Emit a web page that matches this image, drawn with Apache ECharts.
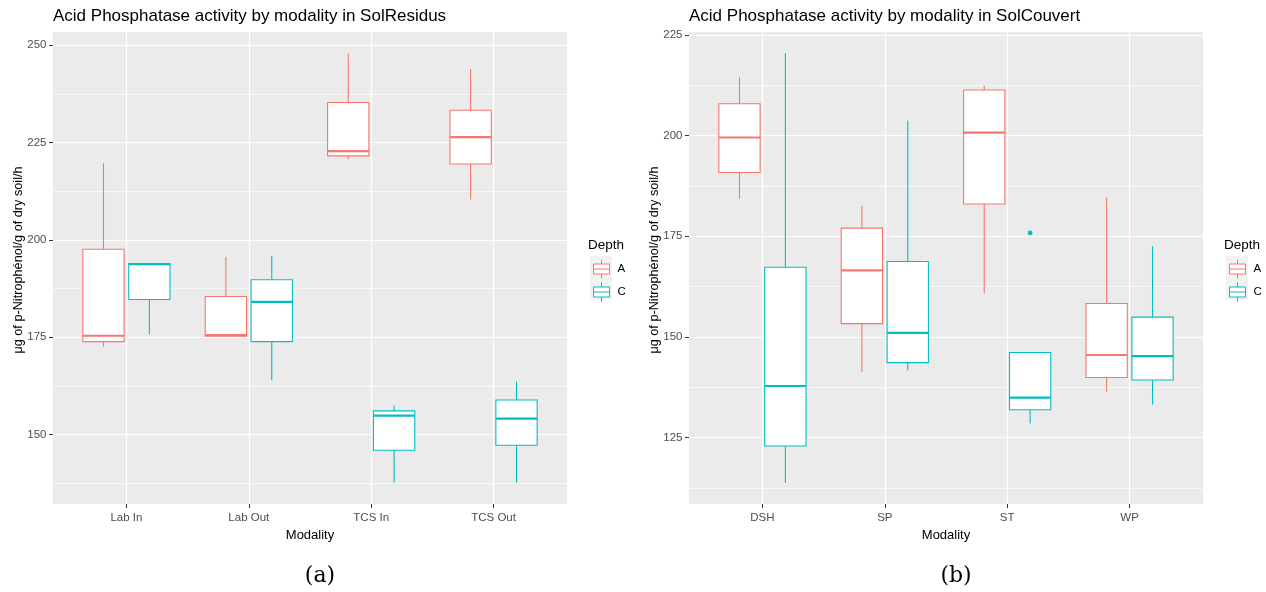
<!DOCTYPE html>
<html>
<head>
<meta charset="utf-8">
<title>Acid Phosphatase activity by modality</title>
<script src="https://cdn.jsdelivr.net/npm/echarts@6/dist/echarts.min.js"></script>
<style>
  html, body { margin: 0; padding: 0; background: #ffffff; }
  #chart { width: 1266px; height: 592px; }
</style>
</head>
<body>
<div id="chart"></div>
<script>
// Box statistics per modality: [min, q1, median, q3, max]
const residusCategories = ['Lab In', 'Lab Out', 'TCS In', 'TCS Out'];
const residusDepthA = [
  [172.6, 173.9, 175.4, 197.6, 219.7],
  [175.3, 175.3, 175.6, 185.5, 195.7],
  [220.7, 221.6, 222.8, 235.3, 247.9],
  [210.4, 219.5, 226.4, 233.3, 243.9]
];
const residusDepthC = [
  [175.8, 184.7, 193.8, 193.9, 193.9],
  [164.0, 173.9, 184.1, 189.8, 195.9],
  [137.7, 146.0, 154.9, 156.1, 157.4],
  [137.7, 147.3, 154.1, 158.9, 163.6]
];
const residusOutliersA = [];
const residusOutliersC = [];
const residusTicks = [150, 175, 200, 225, 250];
const residusMinorTicks = [137.5, 162.5, 187.5, 212.5, 237.5];

const couvertCategories = ['DSH', 'SP', 'ST', 'WP'];
const couvertDepthA = [
  [184.3, 190.8, 199.5, 207.9, 214.4],
  [141.3, 153.3, 166.5, 177.0, 182.5],
  [160.8, 183.0, 200.7, 211.3, 212.4],
  [136.4, 139.9, 145.5, 158.3, 184.6]
];
const couvertDepthC = [
  [113.8, 122.9, 137.8, 167.3, 220.4],
  [141.7, 143.6, 151.0, 168.7, 203.7],
  [128.5, 131.9, 134.9, 146.1, 146.1],
  [133.2, 139.3, 145.2, 154.9, 172.5]
];
// [modality index, value]
const couvertOutliersA = [];
const couvertOutliersC = [[2, 175.8]];
const couvertTicks = [125, 150, 175, 200, 225];
const couvertMinorTicks = [112.5, 137.5, 162.5, 187.5, 212.5];

const depthNames = ['A', 'C'];
const depthColors = ['#F8766D', '#00BFC4'];

const FONT = '"Liberation Sans", Arial, sans-serif';
const BOX_WIDTH = 0.3375;   // fraction of one category step
const DODGE = 0.1875;       // centre offset of each depth box
const ySpan = { residus: [132.2, 253.4], couvert: [108.5, 225.7] };

function boxRenderer(shift) {
  return function (params, api) {
    const cat = api.value(0);
    const step = api.size([1, 0])[0];
    const y = (i) => api.coord([cat, api.value(i)])[1];
    const cx = api.coord([cat, api.value(3)])[0] + shift * step;
    const w = BOX_WIDTH * step;
    const yMin = y(1), yQ1 = y(2), yMed = y(3), yQ3 = y(4), yMax = y(5);
    const color = api.visual('color');
    return {
      type: 'group',
      children: [
        { type: 'line', shape: { x1: cx, y1: yMax, x2: cx, y2: yQ3 }, style: { stroke: color, lineWidth: 1.1 } },
        { type: 'line', shape: { x1: cx, y1: yQ1, x2: cx, y2: yMin }, style: { stroke: color, lineWidth: 1.1 } },
        { type: 'rect', shape: { x: cx - w / 2, y: yQ3, width: w, height: yQ1 - yQ3 }, style: { fill: '#ffffff', stroke: color, lineWidth: 1.1 } },
        { type: 'line', shape: { x1: cx - w / 2, y1: yMed, x2: cx + w / 2, y2: yMed }, style: { stroke: color, lineWidth: 2.2 } }
      ]
    };
  };
}

function outlierRenderer(shift) {
  return function (params, api) {
    const cat = api.value(0);
    const step = api.size([1, 0])[0];
    const pt = api.coord([cat, api.value(1)]);
    return {
      type: 'circle',
      shape: { cx: pt[0] + shift * step, cy: pt[1], r: 2.4 },
      style: { fill: api.visual('color') }
    };
  };
}

function modalityAxis(gridIndex, cats) {
  const idx = cats.map((_, i) => i);
  return {
    type: 'value', gridIndex: gridIndex,
    min: -0.6, max: cats.length - 0.4,
    axisLine: { show: false, onZero: false },
    axisTick: { show: true, length: 4, lineStyle: { color: '#333333', width: 1 }, customValues: idx },
    axisLabel: {
      customValues: idx, formatter: (v) => cats[Math.round(v)],
      color: '#4D4D4D', fontSize: 11.5, fontFamily: FONT, margin: 8
    },
    splitLine: { show: true, lineStyle: { color: '#ffffff', width: 1.2 } },
    name: 'Modality', nameLocation: 'middle', nameGap: 22,
    nameTextStyle: { color: '#000000', fontSize: 13, fontFamily: FONT }
  };
}

function activityAxis(gridIndex, span, ticks) {
  return {
    type: 'value', gridIndex: gridIndex, position: 'left',
    min: span[0], max: span[1],
    axisLine: { show: false, onZero: false },
    axisTick: { show: true, length: 4, lineStyle: { color: '#333333', width: 1 }, customValues: ticks },
    axisLabel: { customValues: ticks, color: '#4D4D4D', fontSize: 11.5, fontFamily: FONT, margin: 6.5 },
    splitLine: { show: true, lineStyle: { color: '#ffffff', width: 1.2 } }
  };
}

function minorAxis(gridIndex, span, ticks) {
  return {
    type: 'value', gridIndex: gridIndex, position: 'right',
    min: span[0], max: span[1],
    axisLine: { show: false, onZero: false },
    axisTick: { show: false, customValues: ticks },
    axisLabel: { show: false },
    splitLine: { show: true, lineStyle: { color: '#ffffff', width: 0.6 } }
  };
}

function boxSeries(gridIndex, yIndex, stats, d) {
  return {
    type: 'custom', name: depthNames[d],
    xAxisIndex: gridIndex, yAxisIndex: yIndex,
    itemStyle: { color: depthColors[d] },
    dimensions: ['cat', 'min', 'q1', 'median', 'q3', 'max'],
    encode: { x: 0, y: [1, 2, 3, 4, 5] },
    data: stats.map((s, i) => [i].concat(s)),
    renderItem: boxRenderer(d === 0 ? -DODGE : DODGE),
    z: 3
  };
}

function outlierSeries(gridIndex, yIndex, pts, d) {
  return {
    type: 'custom', name: depthNames[d],
    xAxisIndex: gridIndex, yAxisIndex: yIndex,
    itemStyle: { color: depthColors[d] },
    encode: { x: 0, y: 1 },
    data: pts,
    renderItem: outlierRenderer(d === 0 ? -DODGE : DODGE),
    z: 4
  };
}

const keyIcon = 'path://M8,0L8,4.5M0,4.5L16,4.5L16,14.5L0,14.5ZM0,9.5L16,9.5M8,14.5L8,19';

function depthLegend(left) {
  return {
    left: left, top: 259, orient: 'vertical', padding: 0,
    itemWidth: 16, itemHeight: 19, itemGap: 3,
    icon: keyIcon, selectedMode: false,
    textStyle: { color: '#000000', fontSize: 11.5, fontFamily: FONT, padding: [0, 0, 0, 3] },
    data: depthNames.map((n, d) => ({
      name: n,
      itemStyle: { color: '#ffffff', borderColor: depthColors[d], borderWidth: 1 }
    }))
  };
}

const yTitle = 'μg of p-Nitrophénol/g of dry soil/h';

const option = {
  animation: false,
  backgroundColor: '#ffffff',
  title: [
    { text: 'Acid Phosphatase activity by modality in SolResidus', left: 53, top: 8, padding: 0,
      textStyle: { fontSize: 17, fontWeight: 'normal', color: '#000000', fontFamily: FONT } },
    { text: 'Acid Phosphatase activity by modality in SolCouvert', left: 689, top: 8, padding: 0,
      textStyle: { fontSize: 17, fontWeight: 'normal', color: '#000000', fontFamily: FONT } }
  ],
  grid: [
    { left: 53, top: 32, width: 514, height: 472, show: true, backgroundColor: '#EBEBEB', borderWidth: 0 },
    { left: 689, top: 32, width: 514, height: 472, show: true, backgroundColor: '#EBEBEB', borderWidth: 0 }
  ],
  xAxis: [modalityAxis(0, residusCategories), modalityAxis(1, couvertCategories)],
  yAxis: [
    activityAxis(0, ySpan.residus, residusTicks),
    minorAxis(0, ySpan.residus, residusMinorTicks),
    activityAxis(1, ySpan.couvert, couvertTicks),
    minorAxis(1, ySpan.couvert, couvertMinorTicks)
  ],
  legend: [depthLegend(593), depthLegend(1229)],
  graphic: [
    // legend key backgrounds
    { type: 'rect', left: 590, top: 256, shape: { width: 22, height: 44 }, style: { fill: '#F2F2F2' }, z: 0 },
    { type: 'rect', left: 1226, top: 256, shape: { width: 22, height: 44 }, style: { fill: '#F2F2F2' }, z: 0 },
    { type: 'text', x: 588, y: 245, style: { text: 'Depth', fontSize: 13.5, fontFamily: FONT, fill: '#000000', verticalAlign: 'middle' } },
    { type: 'text', x: 1224, y: 245, style: { text: 'Depth', fontSize: 13.5, fontFamily: FONT, fill: '#000000', verticalAlign: 'middle' } },
    { type: 'text', x: 18, y: 260, rotation: Math.PI / 2,
      style: { text: yTitle, fontSize: 12.7, fontFamily: FONT, fill: '#000000', align: 'center', verticalAlign: 'middle' } },
    { type: 'text', x: 654, y: 260, rotation: Math.PI / 2,
      style: { text: yTitle, fontSize: 12.7, fontFamily: FONT, fill: '#000000', align: 'center', verticalAlign: 'middle' } },
    { type: 'text', x: 320, y: 576, style: { text: '(a)', fontSize: 22, fontFamily: '"DejaVu Serif", serif', fill: '#000000', align: 'center', verticalAlign: 'middle' } },
    { type: 'text', x: 956, y: 576, style: { text: '(b)', fontSize: 22, fontFamily: '"DejaVu Serif", serif', fill: '#000000', align: 'center', verticalAlign: 'middle' } }
  ],
  series: [
    boxSeries(0, 0, residusDepthA, 0),
    boxSeries(0, 0, residusDepthC, 1),
    outlierSeries(0, 0, residusOutliersA, 0),
    outlierSeries(0, 0, residusOutliersC, 1),
    boxSeries(1, 2, couvertDepthA, 0),
    boxSeries(1, 2, couvertDepthC, 1),
    outlierSeries(1, 2, couvertOutliersA, 0),
    outlierSeries(1, 2, couvertOutliersC, 1)
  ]
};

const chart = echarts.init(document.getElementById('chart'));
chart.setOption(option);
</script>
</body>
</html>
